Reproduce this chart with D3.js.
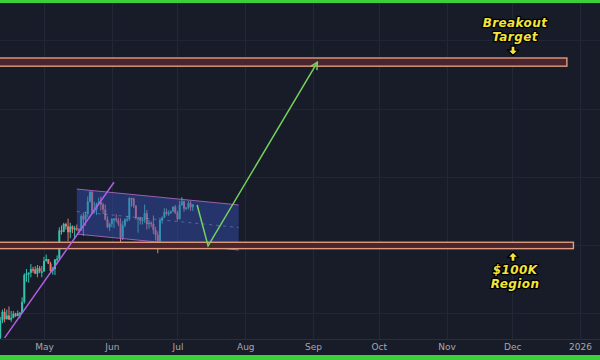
<!DOCTYPE html>
<html>
<head>
<meta charset="utf-8">
<script src="https://cdn.jsdelivr.net/npm/d3@7"></script>
<style>
  body { margin: 0; background: #181c28; }
  svg { display: block; }
</style>
</head>
<body>
<div id="chart"></div>
<script>
// daily candles from Apr 11 2025 to Jul 8 2025, prices in thousand USD
var firstDay = new Date(2025, 3, 11);
var opens = [79.6,83.4,85.3,83.7,84.5,83.6,84.0,84.9,84.4,85.0,85.1,87.5,93.4,93.7,93.9,94.7,94.6,93.7,94.9,94.2,
  94.2,96.5,96.9,95.9,94.3,94.7,96.8,97.0,103.2,102.9,104.6,104.1,102.8,104.1,103.5,103.7,103.5,103.2,106.4,105.6,106.8,109.6,111.7,107.3,107.8,109.0,109.4,108.9,107.8,105.6,103.9,
  104.6,105.7,105.8,105.4,104.7,101.6,104.3,105.6,105.7,110.3,110.2,108.6,105.9,106.0,105.4,105.6,107.0,104.6,104.9,104.6,103.3,102.2,100.9,105.5,106.0,107.3,106.9,107.1,107.4,108.4,
  107.1,105.7,108.8,109.6,108.0,108.2,109.2,108.3];
var highs = [84.2,85.8,86.1,85.8,86.5,85.5,85.5,85.1,85.6,85.3,88.5,93.8,94.7,94.0,95.8,95.2,95.3,95.6,95.4,95.4,
  97.4,97.9,96.9,96.3,95.2,96.9,97.7,103.9,104.3,104.9,104.9,105.8,104.9,104.3,104.2,104.5,103.7,106.7,107.1,107.3,110.7,111.9,111.8,109.5,109.3,110.4,110.7,109.3,108.9,106.3,104.9,
  105.9,105.9,106.8,106.0,105.9,105.3,105.9,106.4,110.5,110.4,110.4,108.8,106.2,106.2,106.1,108.9,107.7,105.5,105.2,106.5,104.0,103.0,106.0,106.3,108.1,108.0,107.6,107.6,108.5,108.8,
  107.5,109.7,110.5,109.8,108.4,109.7,109.7,109.0];
var lows = [78.9,82.8,83.0,83.6,83.6,83.1,83.9,84.2,84.3,83.9,85.1,87.1,91.9,91.7,92.9,93.9,93.6,92.9,93.8,92.9,
  94.1,96.3,95.8,94.1,93.5,93.4,95.8,96.9,102.3,102.8,103.4,100.8,101.5,102.6,101.4,103.1,102.6,103.1,102.0,104.2,106.1,109.3,106.8,106.9,106.6,108.7,107.6,106.8,105.4,103.7,103.1,
  103.9,103.7,105.0,104.2,100.4,101.1,103.9,105.1,105.3,108.4,108.1,105.6,102.7,104.5,104.5,104.9,103.4,103.6,103.9,102.4,101.0,98.2,99.6,104.7,105.9,106.5,106.4,106.8,107.2,106.8,
  105.3,105.6,108.6,107.3,107.8,107.8,107.5,107.5];
var closes = [83.4,85.3,83.7,84.5,83.6,84.0,84.9,84.4,85.0,85.1,87.5,93.4,93.7,93.9,94.7,94.6,93.7,94.9,94.2,94.2,
  96.5,96.9,95.9,94.3,94.7,96.8,97.0,103.2,102.9,104.6,104.1,102.8,104.1,103.5,103.7,103.5,103.2,106.4,105.6,106.8,109.6,111.7,107.3,107.8,109.0,109.4,108.9,107.8,105.6,103.9,104.6,
  105.7,105.8,105.4,104.7,101.6,104.3,105.6,105.7,110.3,110.2,108.6,105.9,106.0,105.4,105.6,107.0,104.6,104.9,104.6,103.3,102.2,100.9,105.5,106.0,107.3,106.9,107.1,107.4,108.4,107.1,
  105.7,108.8,109.6,108.0,108.2,109.2,108.3,108.9];

// horizontal zones (thousand USD) and the date where each box ends
var zoneNames = ["Breakout Target", "$100K Region"];
var zoneLows = [139.3, 99.2];
var zoneHighs = [141.1, 100.6];
var zoneEnds = [new Date(2025, 11, 26), new Date(2025, 11, 29)];

// drawings
var channelDates = [new Date(2025, 4, 16), new Date(2025, 6, 29)];
var channelTop = [112.3, 108.8];
var channelBottom = [102.4, 98.9];
var trendDates = [new Date(2025, 3, 13), new Date(2025, 5, 2)];
var trendPrices = [79.6, 113.8];
var pathDates = [new Date(2025, 6, 10), new Date(2025, 6, 15), new Date(2025, 8, 3)];
var pathPrices = [108.8, 99.8, 140.2];
var gridPrices = [85, 100, 115, 130, 145];

var width = 600, height = 360, axisY = 339;

var candles = opens.map(function(o, i) {
  return { date: d3.timeDay.offset(firstDay, i), o: o, h: highs[i], l: lows[i], c: closes[i] };
});

var x = d3.scaleTime()
  .domain([new Date(2025, 4, 1), new Date(2026, 0, 1)])
  .range([44, 580]);
var y = d3.scaleLinear()
  .domain([100, 140])
  .range([245, 63]);

var svg = d3.select("#chart").append("svg")
  .attr("width", width)
  .attr("height", height);

svg.append("rect").attr("width", width).attr("height", height).attr("fill", "#181c28");

// grid
var months = d3.timeMonth.range(new Date(2025, 4, 1), new Date(2026, 0, 2));
svg.append("g").selectAll("line").data(months).join("line")
  .attr("x1", function(d) { return Math.round(x(d)) + 0.5; })
  .attr("x2", function(d) { return Math.round(x(d)) + 0.5; })
  .attr("y1", 3).attr("y2", axisY)
  .attr("stroke", "#232836");
svg.append("g").selectAll("line").data(gridPrices).join("line")
  .attr("x1", 0).attr("x2", width)
  .attr("y1", function(d) { return Math.round(y(d)) + 0.5; })
  .attr("y2", function(d) { return Math.round(y(d)) + 0.5; })
  .attr("stroke", "#212634");

// candles
var up = "#33c2ad", down = "#e6786f";
var cg = svg.append("g");
cg.selectAll("line").data(candles).join("line")
  .attr("x1", function(d) { return x(d.date); })
  .attr("x2", function(d) { return x(d.date); })
  .attr("y1", function(d) { return y(d.h); })
  .attr("y2", function(d) { return y(d.l); })
  .attr("stroke", function(d) { return d.c >= d.o ? up : down; })
  .attr("stroke-width", 1);
cg.selectAll("rect").data(candles).join("rect")
  .attr("x", function(d) { return x(d.date) - 1; })
  .attr("width", 2)
  .attr("y", function(d) { return y(Math.max(d.o, d.c)); })
  .attr("height", function(d) { return Math.max(1.5, Math.abs(y(d.o) - y(d.c))); })
  .attr("fill", function(d) { return d.c >= d.o ? up : down; });

// parallel channel
var chPts = [
  [x(channelDates[0]), y(channelTop[0])],
  [x(channelDates[1]), y(channelTop[1])],
  [x(channelDates[1]), y(channelBottom[1])],
  [x(channelDates[0]), y(channelBottom[0])]
];
svg.append("polygon")
  .attr("points", chPts.map(function(p) { return p.join(","); }).join(" "))
  .attr("fill", "#3652bd")
  .attr("fill-opacity", 0.45);
[channelTop, channelBottom].forEach(function(arr) {
  svg.append("line")
    .attr("x1", x(channelDates[0])).attr("y1", y(arr[0]))
    .attr("x2", x(channelDates[1])).attr("y2", y(arr[1]))
    .attr("stroke", "#b06ac8").attr("stroke-width", 1).attr("opacity", 0.85);
});
svg.append("line")
  .attr("x1", x(channelDates[0])).attr("y1", y((channelTop[0] + channelBottom[0]) / 2))
  .attr("x2", x(channelDates[1])).attr("y2", y((channelTop[1] + channelBottom[1]) / 2))
  .attr("stroke", "#8f9ad0").attr("stroke-width", 0.8)
  .attr("stroke-dasharray", "3,4").attr("opacity", 0.6);

// zones
svg.append("g").selectAll("rect").data(zoneLows).join("rect")
  .attr("x", -2)
  .attr("y", function(d, i) { return y(zoneHighs[i]); })
  .attr("width", function(d, i) { return x(zoneEnds[i]) + 2; })
  .attr("height", function(d, i) { return y(zoneLows[i]) - y(zoneHighs[i]); })
  .attr("fill", "#4a2530")
  .attr("stroke", "#e09c7c")
  .attr("stroke-width", 1.4);

// trend line
svg.append("line")
  .attr("x1", x(trendDates[0])).attr("y1", y(trendPrices[0]))
  .attr("x2", x(trendDates[1])).attr("y2", y(trendPrices[1]))
  .attr("stroke", "#b25ee6").attr("stroke-width", 1.5);

// projected path
svg.append("defs").append("marker")
  .attr("id", "head")
  .attr("viewBox", "0 0 10 10")
  .attr("refX", 9).attr("refY", 5)
  .attr("markerWidth", 9).attr("markerHeight", 9)
  .attr("markerUnits", "userSpaceOnUse")
  .attr("orient", "auto")
  .append("path")
    .attr("d", "M1,1 L9,5 L1,9")
    .attr("fill", "none")
    .attr("stroke", "#74d25c")
    .attr("stroke-width", 1.6);
svg.append("path")
  .datum(pathDates)
  .attr("fill", "none")
  .attr("stroke", "#74d25c")
  .attr("stroke-width", 1.5)
  .attr("marker-end", "url(#head)")
  .attr("d", d3.line()
    .x(function(d) { return x(d); })
    .y(function(d, i) { return y(pathPrices[i]); }));

// labels
function label(lines, baseY, arrowTop, pointDown) {
  var cx = 515;
  var g = svg.append("g");
  lines.forEach(function(t, i) {
    g.append("text")
      .attr("x", cx).attr("y", baseY + i * 14)
      .attr("text-anchor", "middle")
      .attr("font-family", "DejaVu Sans, sans-serif")
      .attr("font-size", 12)
      .attr("font-weight", "bold")
      .attr("font-style", "italic")
      .attr("letter-spacing", 0.4)
      .attr("fill", "#f3e43c")
      .attr("stroke", "#000")
      .attr("stroke-width", 2.6)
      .attr("paint-order", "stroke")
      .attr("stroke-linejoin", "round")
      .text(t);
  });
  var ax = cx - 2, t = arrowTop;
  var d = pointDown
    ? "M" + (ax - 2) + "," + t + "h4v4h3.5l-5.5,5.5l-5.5,-5.5h3.5z"
    : "M" + ax + "," + t + "l5.5,5.5h-3.5v4h-4v-4h-3.5z";
  g.append("path").attr("d", d)
    .attr("fill", "#f3e43c").attr("stroke", "#000").attr("stroke-width", 1.3)
    .attr("stroke-linejoin", "round");
}
label(["Breakout", "Target"], 27, 46, true);
label(["$100K", "Region"], 274, 252, false);

// time axis
svg.append("rect").attr("x", 0).attr("y", axisY).attr("width", width).attr("height", height - axisY).attr("fill", "#181c28");
svg.append("line").attr("x1", 0).attr("x2", width).attr("y1", axisY + 0.5).attr("y2", axisY + 0.5).attr("stroke", "#2a2f3d");
var fmt = function(d) { return d.getMonth() === 0 ? d3.timeFormat("%Y")(d) : d3.timeFormat("%b")(d); };
var ax = svg.append("g")
  .attr("transform", "translate(0," + axisY + ")")
  .call(d3.axisBottom(x).tickValues(months).tickFormat(fmt).tickSize(0).tickPadding(5));
ax.select(".domain").remove();
ax.selectAll("text")
  .attr("fill", "#a3a8b3")
  .attr("font-family", "DejaVu Sans, sans-serif")
  .attr("font-size", 9);

// green frame
svg.append("rect").attr("x", 0).attr("y", 0).attr("width", width).attr("height", 3).attr("fill", "#3ccf3c");
svg.append("rect").attr("x", 0).attr("y", 355).attr("width", width).attr("height", 5).attr("fill", "#3ccf3c");
</script>
</body>
</html>
